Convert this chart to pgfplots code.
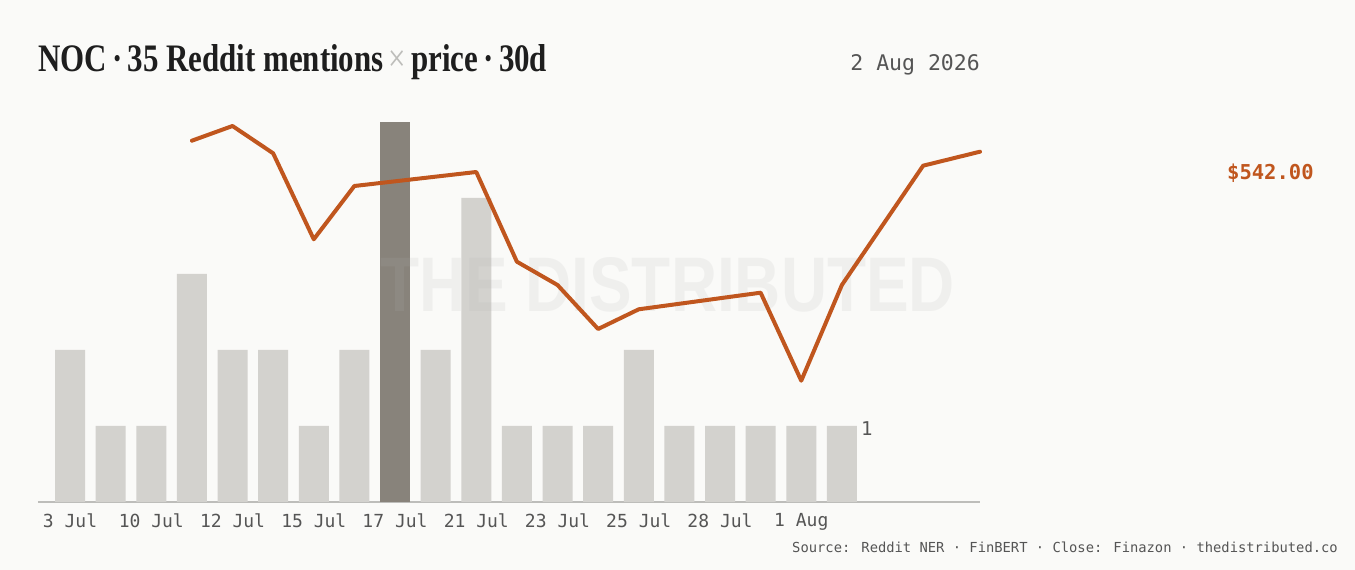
\documentclass[border=0pt]{standalone}
\usepackage{pgfplots}
\pgfplotsset{compat=1.18}
\usepackage{pgfplotstable}
\usepackage{graphicx}
\usepackage{fontspec}
\setmainfont{Liberation Serif}
\newfontfamily\monofont{DejaVu Sans Mono}
\newfontfamily\wmfont{Liberation Sans}
\definecolor{bg}{HTML}{FAFAF8}
\definecolor{barlight}{HTML}{D3D2CE}
\definecolor{bardark}{HTML}{88837B}
\definecolor{price}{HTML}{C0561E}
\definecolor{ink}{HTML}{1E1E1E}
\definecolor{muted}{HTML}{555555}
\definecolor{axisgray}{HTML}{BDBDBA}
\definecolor{wm}{HTML}{B1B1B1}

\pgfplotstableread{
x y
0 2
1 1
2 1
3 3
4 2
5 2
6 1
7 2
9 2
10 4
11 1
12 1
13 1
14 2
15 1
16 1
17 1
18 1
19 1
}\mentions

\pgfplotstableread{
x y
8 5
}\peak

\pgfplotstableread{
x p
3 543.13
4 544.60
5 541.87
6 533.27
7 538.60
10 540.00
11 531.03
12 528.70
13 524.30
14 526.27
17 527.93
18 519.13
19 528.70
21 540.63
22.4 542.03
}\prices

\begin{document}
\begin{tikzpicture}[x=1pt,y=1pt]
\fill[bg] (0,0) rectangle (1355,570);

\begin{axis}[
  at={(38pt,68pt)}, anchor=south west,
  scale only axis, width=942pt, height=380pt,
  xmin=-0.788, xmax=22.40, ymin=0, ymax=5,
  axis x line=bottom, axis y line=none,
  x axis line style={-, draw=axisgray, line width=1.5pt},
  xtick={0,2,4,6,8,10,12,14,16,18},
  xticklabels={3 Jul,10 Jul,12 Jul,15 Jul,17 Jul,21 Jul,23 Jul,25 Jul,28 Jul,1 Aug},
  major tick length=0pt,
  xticklabel style={font=\monofont\fontsize{18}{18}\selectfont, text=muted, yshift=-8pt},
  ytick=\empty,
  clip=false,
]
\addplot[ybar, bar width=30pt, bar shift=0pt, fill=barlight, draw=none] table[x=x,y=y]{\mentions};
\addplot[ybar, bar width=30pt, bar shift=0pt, fill=bardark, draw=none] table[x=x,y=y]{\peak};
\end{axis}

\node[text=wm, text opacity=0.14, inner sep=0pt] at (667.5,285) {\resizebox{575pt}{54pt}{\wmfont\bfseries THE DISTRIBUTED}};

\begin{axis}[
  at={(38pt,68pt)}, anchor=south west,
  scale only axis, width=942pt, height=380pt,
  xmin=-0.788, xmax=22.40, ymin=507, ymax=545,
  hide axis, clip=false,
]
\addplot[price, line width=4pt, line join=round, line cap=round] table[x=x,y=p]{\prices};
\end{axis}

\node[anchor=base west, inner sep=0pt, text=ink] at (38,498) {\resizebox{509pt}{27pt}{\bfseries NOC\,·\,35 Reddit mentions{\color{axisgray}\,\normalfont×\,}price\,·\,30d}};
\node[anchor=base east, inner sep=0pt, text=muted] at (980,499) {\monofont\fontsize{21.5}{21.5}\selectfont 2 Aug 2026};
\node[anchor=base west, inner sep=0pt, text=price] at (1227,390) {\monofont\bfseries\fontsize{20.5}{20.5}\selectfont \$542.00};
\node[anchor=base west, inner sep=0pt, text=muted] at (861,134) {\monofont\fontsize{19}{19}\selectfont 1};
\node[anchor=base east, inner sep=0pt, text=muted] at (1338,17) {\monofont\fontsize{13.8}{13.8}\selectfont Source: Reddit NER · FinBERT · Close: Finazon · thedistributed.co};
\end{tikzpicture}
\end{document}
